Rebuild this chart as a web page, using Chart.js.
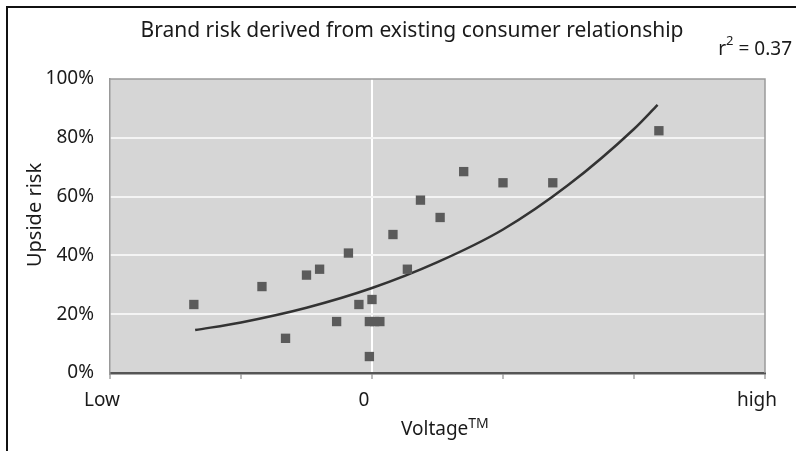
<!DOCTYPE html>
<html>
<head>
<meta charset="utf-8">
<script src="https://cdn.jsdelivr.net/npm/chart.js@4.4.1/dist/chart.umd.min.js"></script>
<style>
  html, body { margin: 0; padding: 0; background: #fff; }
  #wrap { position: relative; width: 796px; height: 451px; }
</style>
</head>
<body>
<div id="wrap"><canvas id="c" width="796" height="451"></canvas></div>
<script>
// Texts
const chartTitle = 'Brand risk derived from existing consumer relationship';
const xAxisTitle = 'Voltage';
const xAxisTitleSup = 'TM';
const yAxisTitle = 'Upside risk';
const fitPrefix = 'r';
const fitSup = '2';
const fitSuffix = ' = 0.37';

// Tick labels on the voltage axis (only the ends and zero are named)
const xTickValues = [-2, -1, 0, 1, 2, 3];
const xTickLabels = { '-2': 'Low', '0': '0', '3': 'high' };

// Observed brands: voltage score and upside risk (%)
const voltage    = [-1.36, -0.84, -0.66, -0.50, -0.40, -0.27, -0.18, -0.10, 0.00, -0.02, 0.02, 0.06, -0.02, 0.16, 0.27, 0.37, 0.52, 0.70, 1.00, 1.38, 2.19];
const upsideRisk = [ 23.3,  29.4,  11.8,  33.3,  35.3,  17.5,  40.8,  23.3, 25.0,  17.5, 17.5, 17.5,   5.6, 47.1, 35.3, 58.8, 52.9, 68.5, 64.7, 64.7, 82.4];

// Exponential trend line, sampled along the voltage axis
const trendVoltage = [-1.35, -1.0, -0.5,  0.0,  0.5,  1.0,  1.5,  2.0,  2.18];
const trendRisk    = [ 14.6, 17.2, 22.2, 28.9, 37.7, 48.8, 64.0, 83.0, 91.2];

const FONT = 'Noto Sans';
const TEXT = '#1a1a1a';

const decor = {
  id: 'decor',
  beforeDraw(chart) {
    const { ctx, chartArea: a } = chart;
    ctx.save();
    ctx.fillStyle = '#fff';
    ctx.fillRect(0, 0, chart.width, chart.height);
    ctx.fillStyle = '#d6d6d6';
    ctx.fillRect(a.left, a.top, a.right - a.left, a.bottom - a.top);
    ctx.restore();
  },
  beforeDatasetsDraw(chart) {
    const { ctx, chartArea: a } = chart;
    ctx.save();
    ctx.strokeStyle = '#9a9a9a';
    ctx.lineWidth = 1.5;
    ctx.beginPath();
    ctx.moveTo(a.left, a.top);
    ctx.lineTo(a.right, a.top);
    ctx.lineTo(a.right, a.bottom);
    ctx.stroke();
    ctx.restore();
  },
  afterDraw(chart) {
    const { ctx } = chart;
    ctx.save();
    // outer frame (top and left edges)
    ctx.strokeStyle = '#111';
    ctx.lineWidth = 2;
    ctx.beginPath();
    ctx.moveTo(7, chart.height);
    ctx.lineTo(7, 7);
    ctx.lineTo(chart.width, 7);
    ctx.stroke();

    ctx.fillStyle = TEXT;
    ctx.textBaseline = 'alphabetic';

    // chart title
    ctx.font = `21px "${FONT}"`;
    ctx.textAlign = 'center';
    ctx.fillText(chartTitle, 412, 37);

    // goodness of fit
    ctx.textAlign = 'left';
    ctx.font = `19px "${FONT}"`;
    const wR = ctx.measureText(fitPrefix).width;
    const wS = ctx.measureText(fitSuffix).width;
    ctx.font = `13px "${FONT}"`;
    const w2 = ctx.measureText(fitSup).width;
    const x = 792 - (wR + w2 + wS);
    ctx.font = `19px "${FONT}"`;
    ctx.fillText(fitPrefix, x, 55);
    ctx.font = `13px "${FONT}"`;
    ctx.fillText(fitSup, x + wR, 45);
    ctx.font = `19px "${FONT}"`;
    ctx.fillText(fitSuffix, x + wR + w2, 55);

    // x axis title with superscript
    ctx.font = `19px "${FONT}"`;
    const wV = ctx.measureText(xAxisTitle).width;
    ctx.fillText(xAxisTitle, 401, 435);
    ctx.font = `14px "${FONT}"`;
    ctx.fillText(xAxisTitleSup, 401 + wV, 428);

    // y axis title, rotated
    ctx.translate(35, 215);
    ctx.rotate(-Math.PI / 2);
    ctx.font = `20px "${FONT}"`;
    ctx.textAlign = 'center';
    ctx.textBaseline = 'middle';
    ctx.fillText(yAxisTitle, 0, 0);
    ctx.restore();
  }
};

const points = voltage.map((v, i) => ({ x: v, y: upsideRisk[i] }));
const trend = trendVoltage.map((v, i) => ({ x: v, y: trendRisk[i] }));

new Chart(document.getElementById('c'), {
  type: 'scatter',
  data: {
    datasets: [
      {
        label: 'Trend',
        type: 'line',
        data: trend,
        borderColor: '#333',
        borderWidth: 2.5,
        pointRadius: 0,
        fill: false,
        cubicInterpolationMode: 'monotone',
        order: 2
      },
      {
        label: 'Brands',
        data: points,
        pointStyle: 'rect',
        pointRadius: 6.6,
        pointBorderWidth: 0,
        backgroundColor: '#5b5b5b',
        borderColor: '#5b5b5b',
        order: 1
      }
    ]
  },
  options: {
    responsive: false,
    animation: false,
    events: [],
    layout: { padding: { left: 0, right: 31, top: 79, bottom: 0 } },
    plugins: {
      legend: { display: false },
      tooltip: { enabled: false },
      title: { display: false }
    },
    scales: {
      x: {
        type: 'linear',
        min: -2,
        max: 3,
        afterFit(s) { s.height = 78; },
        afterBuildTicks(s) { s.ticks = xTickValues.map(v => ({ value: v })); },
        ticks: {
          autoSkip: false,
          maxRotation: 0,
          labelOffset: -8,
          padding: 10,
          color: TEXT,
          font: { family: FONT, size: 19 },
          callback: v => (xTickLabels[String(v)] ?? '')
        },
        grid: {
          drawOnChartArea: true,
          color: ctx => (ctx.tick && ctx.tick.value === 0 ? '#ffffff' : 'rgba(0,0,0,0)'),
          lineWidth: 2,
          tickColor: '#777',
          tickLength: 6,
          tickWidth: 1
        },
        border: { display: true, color: '#555', width: 2.5 }
      },
      y: {
        min: 0,
        max: 100,
        afterFit(s) { s.width = 110; },
        ticks: {
          stepSize: 20,
          padding: 16,
          color: TEXT,
          font: { family: FONT, size: 19 },
          callback: v => v + '%'
        },
        grid: {
          drawTicks: false,
          color: ctx => (ctx.tick && ctx.tick.value > 0 && ctx.tick.value < 100 ? '#f4f4f4' : 'rgba(0,0,0,0)'),
          lineWidth: 2
        },
        border: { display: true, color: '#999', width: 1.5 },
        title: { display: false }
      }
    }
  },
  plugins: [decor]
});
</script>
</body>
</html>
